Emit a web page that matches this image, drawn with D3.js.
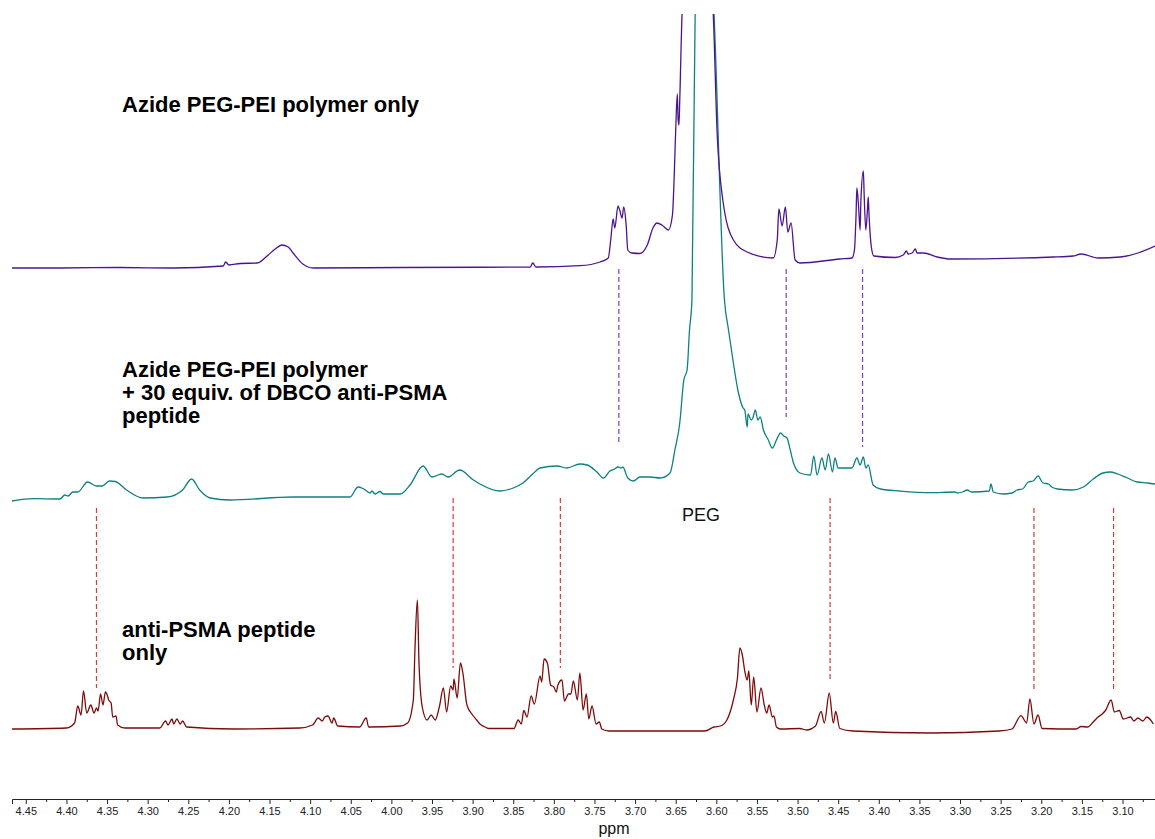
<!DOCTYPE html>
<html>
<head>
<meta charset="utf-8">
<script src="https://cdn.jsdelivr.net/npm/d3@7"></script>
<style>
  body { margin: 0; background: #fff; }
  text { font-family: "Liberation Sans", Arial, sans-serif; }
</style>
</head>
<body>
<div id="chart"></div>
<script>
// ppm values, intensities in arbitrary units (baseline = 0)
var polymerPpm = [4.467,4.408,4.334,4.269,4.207,4.204,4.200,4.186,4.165,4.153,4.143,4.135,4.127,4.121,4.109,4.096,3.989,3.829,3.826,3.822,3.768,3.743,3.733,3.730,3.727,3.725,3.721,3.719,3.716,3.714,3.711,3.709,3.704,3.694,3.685,3.678,3.673,3.667,3.659,3.654,3.652,3.650,3.648,3.647,3.646,3.645,3.642,3.624,3.604,3.599,3.592,3.579,3.562,3.530,3.525,3.523,3.519,3.515,3.512,3.508,3.503,3.497,3.448,3.433,3.430,3.428,3.427,3.425,3.423,3.422,3.419,3.418,3.416,3.414,3.413,3.412,3.409,3.406,3.380,3.370,3.366,3.364,3.359,3.355,3.353,3.345,3.328,3.312,3.185,3.161,3.151,3.130,3.103,3.081,3.060];
var polymerInt = [0,0,0.5,0,2,6,3,4.5,5,12,19,23,21,15,4,0,0.5,1,5,1,2.3,6,10,28,49,40,62,58,50,61,43,18,15,14.5,23,40,45,43,38,53,88,138,174,148,143,168,258,418,258,135,68,28,16,10,28,59,42,61,36,45,8,5,9,10,18,53,80,63,38,68,97,73,38,58,71,53,20,12,10.5,13,17,14,15,19,15,15,11,9,11,12,14,10,11,15,22];

var conjPpm = [4.467,4.441,4.408,4.402,4.398,4.392,4.386,4.374,4.363,4.356,4.347,4.340,4.326,4.306,4.276,4.257,4.246,4.236,4.223,4.199,4.121,4.051,4.041,4.035,4.026,4.024,4.020,4.014,4.010,3.989,3.977,3.961,3.950,3.938,3.930,3.916,3.899,3.891,3.866,3.850,3.838,3.826,3.817,3.796,3.784,3.768,3.759,3.747,3.739,3.731,3.725,3.721,3.717,3.715,3.709,3.702,3.694,3.682,3.669,3.657,3.651,3.645,3.640,3.636,3.633,3.630,3.626,3.614,3.603,3.590,3.585,3.579,3.573,3.567,3.565,3.562,3.561,3.557,3.555,3.552,3.549,3.546,3.542,3.536,3.531,3.526,3.521,3.517,3.513,3.509,3.505,3.497,3.484,3.480,3.476,3.470,3.466,3.462,3.457,3.454,3.450,3.433,3.427,3.423,3.419,3.416,3.413,3.407,3.398,3.374,3.337,3.306,3.303,3.297,3.291,3.286,3.264,3.262,3.259,3.247,3.236,3.230,3.223,3.216,3.210,3.204,3.198,3.191,3.187,3.180,3.162,3.148,3.136,3.124,3.115,3.106,3.094,3.082,3.069,3.060];
var conjInt = [-1,1.3,1,5,4,8,8,18,14,14,19,18.5,10,2,3,10,21,10,2,0,3,3,13,11.5,7,9,6,8.5,6,6,15,34,23,26,23,30,20,16,9,12,17,26,32,34,32,36,35,28,22,29,31,33,32,33,22,19,23,23,22,27,50,77,120,130,170,200,490,650,490,200,170,137,108,92,90,73,86,80,82,90,80,83,70,60,52,60,67,64,62,50,37,27,25,44,25,42,30,46,28,42,32,32,42,35,43,32,35,15,11,9,7.3,8,7,8,10,8,9,16,8,6,7,10,11,18,19,24,17,16,13,11,10,13,21,27,28,26,22,18,17,16];

var peptidePpm = [4.467,4.400,4.390,4.386,4.382,4.379,4.375,4.370,4.366,4.363,4.361,4.358,4.355,4.352,4.349,4.348,4.345,4.343,4.339,4.337,4.328,4.285,4.278,4.275,4.270,4.268,4.264,4.260,4.257,4.252,4.195,4.113,4.097,4.090,4.085,4.082,4.078,4.073,4.071,4.066,4.039,4.031,4.028,3.989,3.980,3.973,3.971,3.968,3.966,3.962,3.956,3.951,3.946,3.941,3.936,3.932,3.927,3.924,3.923,3.919,3.915,3.912,3.907,3.900,3.895,3.891,3.886,3.880,3.849,3.844,3.840,3.837,3.833,3.828,3.824,3.817,3.815,3.812,3.808,3.804,3.800,3.797,3.795,3.790,3.787,3.782,3.779,3.776,3.771,3.768,3.764,3.760,3.757,3.753,3.748,3.744,3.741,3.732,3.614,3.603,3.595,3.587,3.579,3.574,3.571,3.568,3.565,3.562,3.560,3.557,3.554,3.550,3.545,3.541,3.538,3.535,3.531,3.529,3.526,3.521,3.497,3.489,3.478,3.471,3.467,3.461,3.456,3.453,3.448,3.432,3.337,3.252,3.236,3.225,3.218,3.214,3.209,3.204,3.199,3.157,3.151,3.143,3.136,3.130,3.125,3.121,3.114,3.110,3.104,3.099,3.090,3.086,3.081,3.075,3.070,3.062];
var peptideInt = [0,1,6,23,14,38,16,24,16,21,18,35,24,37,32,29,26,12,13,4,1,1,8,4,10,5,10,5,8,2,0,1,4,11,8,12,13,6,11,3,2,11,2,3,6,29,79,129,66,22,9,14,9,22,41,17,43,39,50,31,66,56,24,14,9,5,2.5,0.5,0.5,9,5,18.5,12,33,25,53,47,70,66,44,42,37,44,49,28,35,35,48,29,56,19,35,10,23,5,7,0,-2,-2,2,3,9,29,51,81,74,58,49,58,24,52,17,41,24,16,24,12,13,2,0,0.5,-1,3,17.5,6,36,6,17.5,0.5,-2,-4,-2,0,13.4,6,30,5,14,0.5,0,2.5,2,7,12,15,18.5,29,17,18.5,10,12,8,11,8,12,5];

// dashed guide lines (ppm) and where they end
var polymerMarks = [3.720, 3.514, 3.420];
var polymerMarkEnds = [55, 83, 53];          // conj scale
var peptideMarks = [4.363, 3.924, 3.792, 3.460, 3.209, 3.111];
var peptideMarkTops = [-8, 2, 2, 2, -8, -8];   // conj scale
var peptideMarkEnds = [41, 61, 61, 49, 39, 39]; // peptide scale

var majorTicks = [4.45,4.40,4.35,4.30,4.25,4.20,4.15,4.10,4.05,4.00,3.95,3.90,3.85,3.80,3.75,3.70,3.65,3.60,3.55,3.50,3.45,3.40,3.35,3.30,3.25,3.20,3.15,3.10];

var labels = [
  {lines: ["Azide PEG-PEI polymer only"], x: 122, y: 112},
  {lines: ["Azide PEG-PEI polymer", "+ 30 equiv. of DBCO anti-PSMA", "peptide"], x: 122, y: 377},
  {lines: ["anti-PSMA peptide", "only"], x: 122, y: 637}
];

var width = 1155, height = 839;

var svg = d3.select("#chart").append("svg")
  .attr("width", width)
  .attr("height", height);

var x = d3.scaleLinear().domain([4.467, 3.060]).range([12, 1155]);
var yPoly = d3.scaleLinear().domain([0, 100]).range([268, 168]);
var yConj = d3.scaleLinear().domain([0, 100]).range([500, 400]);
var yPep = d3.scaleLinear().domain([0, 100]).range([729, 629]);

svg.append("clipPath").attr("id", "clip")
  .append("rect").attr("x", 0).attr("y", 14).attr("width", width).attr("height", height - 14);

var plot = svg.append("g").attr("clip-path", "url(#clip)");

// guide lines first so spectra sit on top
polymerMarks.forEach(function(p, i){
  plot.append("line")
    .attr("x1", x(p)).attr("x2", x(p))
    .attr("y1", yPoly(-1)).attr("y2", yConj(polymerMarkEnds[i]))
    .attr("stroke", "#7a3cc4")
    .attr("stroke-width", 1.2)
    .attr("stroke-dasharray", "5,3");
});
peptideMarks.forEach(function(p, i){
  plot.append("line")
    .attr("x1", x(p)).attr("x2", x(p))
    .attr("y1", yConj(peptideMarkTops[i])).attr("y2", yPep(peptideMarkEnds[i]))
    .attr("stroke", "#d93a34")
    .attr("stroke-width", 1.2)
    .attr("stroke-dasharray", "5,3");
});

function drawSpectrum(ppm, vals, yScale, color){
  var pts = ppm.map(function(p, i){ return [p, vals[i]]; });
  var line = d3.line()
    .x(function(d){ return x(d[0]); })
    .y(function(d){ return yScale(d[1]); })
    .curve(d3.curveMonotoneX);
  plot.append("path")
    .datum(pts)
    .attr("d", line)
    .attr("fill", "none")
    .attr("stroke", color)
    .attr("stroke-width", 1.3)
    .attr("stroke-linejoin", "round");
}

drawSpectrum(peptidePpm, peptideInt, yPep, "#7f0a0a");
drawSpectrum(conjPpm, conjInt, yConj, "#0f8080");
drawSpectrum(polymerPpm, polymerInt, yPoly, "#4b1490");

// axis
var axis = svg.append("g").attr("transform", "translate(0,799)");
axis.call(d3.axisBottom(x).tickValues(majorTicks).tickSize(5).tickFormat(d3.format(".2f")));
axis.select(".domain").attr("stroke", "#222");
axis.selectAll(".tick line").attr("stroke", "#222");
axis.selectAll(".tick text")
  .attr("font-size", 11)
  .attr("fill", "#222")
  .style("font-family", "'Liberation Sans', Arial, sans-serif");

var minorTicks = majorTicks.map(function(t){ return t - 0.025; });
var minor = svg.append("g").attr("transform", "translate(0,799)");
minor.call(d3.axisBottom(x).tickValues(minorTicks).tickSize(3).tickFormat(""));
minor.select(".domain").remove();
minor.selectAll(".tick line").attr("stroke", "#222");

svg.append("text")
  .attr("x", 614).attr("y", 834)
  .attr("text-anchor", "middle")
  .attr("font-size", 16)
  .attr("fill", "#111")
  .text("ppm");

svg.append("text")
  .attr("x", 701).attr("y", 521)
  .attr("text-anchor", "middle")
  .attr("font-size", 18)
  .attr("fill", "#111")
  .text("PEG");

labels.forEach(function(l){
  var t = svg.append("text")
    .attr("x", l.x).attr("y", l.y)
    .attr("font-size", 22)
    .attr("font-weight", "bold")
    .attr("fill", "#000");
  l.lines.forEach(function(s, i){
    t.append("tspan").attr("x", l.x).attr("dy", i == 0 ? 0 : 23).text(s);
  });
});
</script>
</body>
</html>
